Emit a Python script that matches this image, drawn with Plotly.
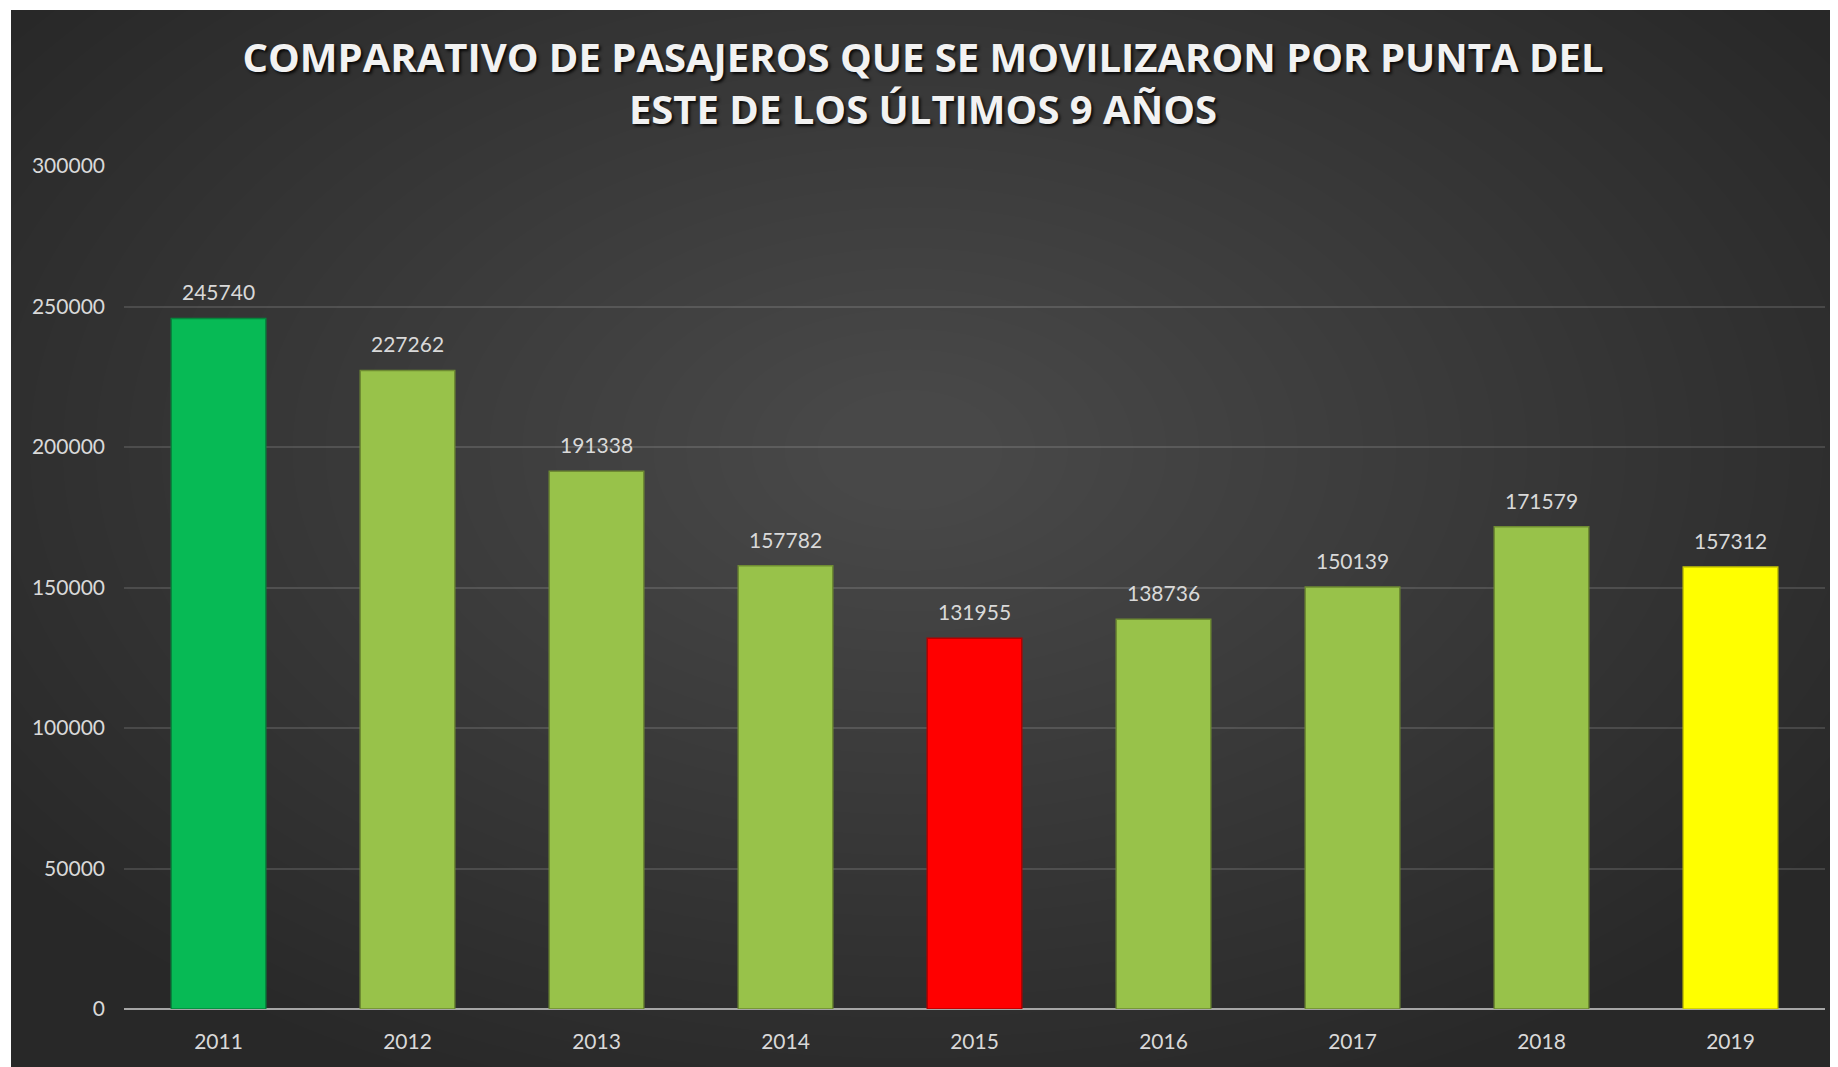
import plotly.graph_objects as go

# datos
anios = ["2011", "2012", "2013", "2014", "2015", "2016", "2017", "2018", "2019"]
pasajeros = [245740, 227262, 191338, 157782, 131955, 138736, 150139, 171579, 157312]
colores = ["#07BA55", "#98C24A", "#98C24A", "#98C24A", "#FF0000",
           "#98C24A", "#98C24A", "#98C24A", "#FFFF00"]
bordes = ["#05863D", "#6E8B32", "#6E8B32", "#6E8B32", "#B30000",
          "#6E8B32", "#6E8B32", "#6E8B32", "#C8C800"]
ticks_y = [0, 50000, 100000, 150000, 200000, 250000, 300000]

titulo = "COMPARATIVO DE PASAJEROS QUE SE MOVILIZARON POR PUNTA DEL<br>ESTE DE LOS ÚLTIMOS 9 AÑOS"

# la pagina tiene 8px de margen en el body
OFF = 8
W, H = 1838 - OFF, 1067 - OFF
ML, MR, MT, MB = 116, 13, 158, 58
PW, PH = W - ML - MR, H - MT - MB


def px_x(x):
    return (x - OFF - ML) / PW


def px_y(y):
    return (H - MB - (y - OFF)) / PH


fig = go.Figure()

fig.add_trace(go.Bar(
    x=anios,
    y=pasajeros,
    width=0.5,
    marker=dict(color=colores, line=dict(color=bordes, width=1.5)),
    hoverinfo="x+y",
))

# etiquetas de valor
for i, v in enumerate(pasajeros):
    fig.add_annotation(x=i, y=v, xref="x", yref="y", text=str(v),
                       showarrow=False, yanchor="bottom", yshift=12,
                       font=dict(family="Lato", size=21, color="#d9d9d9"))

# fondo oscuro
fig.add_shape(type="rect", xref="paper", yref="paper", layer="below",
              x0=px_x(11), x1=px_x(1850), y0=px_y(1080), y1=px_y(10),
              fillcolor="#282828", line_width=0)

# degradado radial aproximado
cx, cy = 910, 450
n = 32
for i in range(n):
    f = 1 - i / n
    rx = 1050 * f + 60
    ry = 650 * f + 40
    fig.add_shape(type="circle", xref="paper", yref="paper", layer="below",
                  x0=px_x(cx - rx), x1=px_x(cx + rx),
                  y0=px_y(cy + ry), y1=px_y(cy - ry),
                  fillcolor="rgba(255,255,255,0.0098)", line_width=0)

# tapar lo que sale del area oscura
fig.add_shape(type="rect", xref="paper", yref="paper", layer="below",
              x0=px_x(-20), x1=px_x(1860), y0=px_y(10), y1=px_y(-20),
              fillcolor="white", line_width=0)
fig.add_shape(type="rect", xref="paper", yref="paper", layer="below",
              x0=px_x(-20), x1=px_x(11), y0=px_y(1080), y1=px_y(-20),
              fillcolor="white", line_width=0)

fig.update_layout(
    width=W,
    height=H,
    title=dict(
        text=titulo,
        x=0.5,
        xanchor="center",
        xref="container",
        y=1 - 63.5 / H,
        yanchor="middle",
        font=dict(family="Open Sans", size=40, color="#f2f2f2", weight="bold",
                  shadow="2px 2px 3px rgba(0,0,0,0.85)"),
    ),
    xaxis=dict(
        type="category",
        range=[-0.5, 8.5],
        showgrid=False,
        showline=False,
        ticks="",
        tickfont=dict(family="Lato", size=21, color="#d9d9d9"),
        ticklabelstandoff=18,
    ),
    yaxis=dict(
        range=[0, 300000],
        tickvals=ticks_y,
        ticktext=[str(t) for t in ticks_y],
        showgrid=True,
        gridcolor="rgba(255,255,255,0.13)",
        gridwidth=1.5,
        zeroline=True,
        zerolinecolor="#a6a6a6",
        zerolinewidth=2,
        showline=False,
        ticks="",
        tickfont=dict(family="Lato", size=21, color="#d9d9d9"),
        ticklabelstandoff=18,
    ),
    plot_bgcolor="rgba(0,0,0,0)",
    paper_bgcolor="white",
    showlegend=False,
    bargap=0.5,
    margin=dict(l=ML, r=MR, t=MT, b=MB, pad=0),
)

fig.write_html("out.html")
